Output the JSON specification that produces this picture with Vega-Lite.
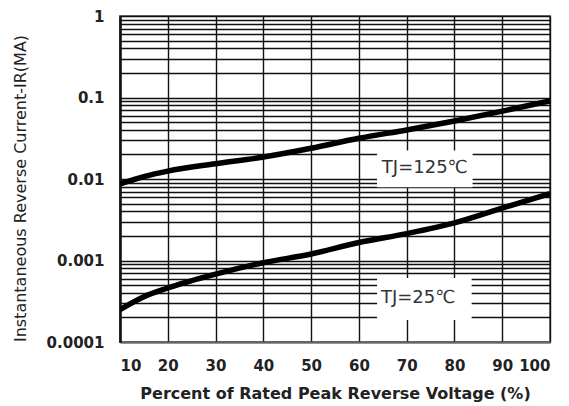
{
  "$schema": "https://vega.github.io/schema/vega-lite/v6.json",
  "width": 430,
  "height": 326,
  "autosize": "none",
  "padding": {"left": 120, "top": 16, "right": 19, "bottom": 64},
  "background": "white",
  "datasets": {
    "curves": [
      {"v": 10, "ir": 0.0087, "tj": "125"},
      {"v": 15, "ir": 0.0107, "tj": "125"},
      {"v": 20, "ir": 0.0125, "tj": "125"},
      {"v": 30, "ir": 0.0154, "tj": "125"},
      {"v": 40, "ir": 0.0186, "tj": "125"},
      {"v": 50, "ir": 0.0238, "tj": "125"},
      {"v": 60, "ir": 0.0316, "tj": "125"},
      {"v": 70, "ir": 0.040, "tj": "125"},
      {"v": 80, "ir": 0.0515, "tj": "125"},
      {"v": 90, "ir": 0.068, "tj": "125"},
      {"v": 100, "ir": 0.0906, "tj": "125"},
      {"v": 10, "ir": 0.00025, "tj": "25"},
      {"v": 15, "ir": 0.00036, "tj": "25"},
      {"v": 20, "ir": 0.00046, "tj": "25"},
      {"v": 30, "ir": 0.00068, "tj": "25"},
      {"v": 40, "ir": 0.00094, "tj": "25"},
      {"v": 50, "ir": 0.0012, "tj": "25"},
      {"v": 60, "ir": 0.00166, "tj": "25"},
      {"v": 70, "ir": 0.00214, "tj": "25"},
      {"v": 80, "ir": 0.0029, "tj": "25"},
      {"v": 90, "ir": 0.0044, "tj": "25"},
      {"v": 100, "ir": 0.0066, "tj": "25"}
    ],
    "notes": [
      {"label": "TJ=125℃", "x": 73.8, "y": 0.01346, "x1": 63.8, "x2": 83.8, "y1": 0.0224, "y2": 0.0079},
      {"label": "TJ=25℃", "x": 72.4, "y": 0.000342, "x1": 63.8, "x2": 83.6, "y1": 0.00061, "y2": 0.000186}
    ]
  },
  "layer": [
    {
      "data": {"name": "notes"},
      "mark": {"type": "rect", "fill": "white", "opacity": 0},
      "encoding": {
        "x": {
          "field": "x1", "type": "quantitative",
          "scale": {"domain": [10, 100], "nice": false, "zero": false},
          "axis": {
            "values": [10, 20, 30, 40, 50, 60, 70, 80, 90, 100],
            "grid": true, "gridColor": "#111", "gridWidth": 1.4, "gridOpacity": 1,
            "ticks": false, "domainColor": "#666", "domainWidth": 2,
            "labelFont": "DejaVu Sans", "labelFontSize": 15, "labelFontWeight": "bold",
            "labelColor": "#222", "labelPadding": 16, "labelAngle": 0,
            "title": "Percent of Rated Peak Reverse Voltage (%)",
            "titleFont": "DejaVu Sans", "titleFontSize": 16, "titleFontWeight": "bold",
            "titleColor": "#222", "titlePadding": 12
          }
        },
        "y": {
          "field": "y1", "type": "quantitative",
          "scale": {"type": "log", "domain": [0.0001, 1], "nice": false},
          "axis": {
            "values": [0.0001, 0.0002, 0.0003, 0.0004, 0.0005, 0.0006, 0.0007, 0.0008, 0.0009,
                       0.001, 0.002, 0.003, 0.004, 0.005, 0.006, 0.007, 0.008, 0.009,
                       0.01, 0.02, 0.03, 0.04, 0.05, 0.06, 0.07, 0.08, 0.09,
                       0.1, 0.2, 0.3, 0.4, 0.5, 0.6, 0.7, 0.8, 0.9, 1],
            "format": "~g",
            "labelExpr": "abs(log(datum.value)/LN10 - round(log(datum.value)/LN10)) < 0.000001 ? datum.label : ''",
            "grid": true, "gridColor": "#111", "gridWidth": 1.3, "gridOpacity": 1,
            "ticks": false, "domainColor": "#111", "domainWidth": 2.5,
            "labelFont": "DejaVu Sans", "labelFontSize": 15, "labelFontWeight": "bold",
            "labelColor": "#222", "labelPadding": 16,
            "title": "Instantaneous Reverse Current-IR(MA)",
            "titleFont": "DejaVu Sans", "titleFontSize": 16, "titleFontWeight": "normal",
            "titleColor": "#222", "titleX": -100, "titleY": 172, "titleBaseline": "middle"
          }
        },
        "x2": {"field": "x2"},
        "y2": {"field": "y2"}
      }
    },
    {
      "data": {"name": "curves"},
      "mark": {"type": "line", "color": "black", "strokeWidth": 5.5, "interpolate": "monotone", "clip": true},
      "encoding": {
        "x": {"field": "v", "type": "quantitative"},
        "y": {"field": "ir", "type": "quantitative"},
        "detail": {"field": "tj"}
      }
    },
    {
      "data": {"name": "notes"},
      "mark": {"type": "rect", "fill": "white"},
      "encoding": {
        "x": {"field": "x1", "type": "quantitative"},
        "x2": {"field": "x2"},
        "y": {"field": "y1", "type": "quantitative"},
        "y2": {"field": "y2"}
      }
    },
    {
      "data": {"name": "notes"},
      "mark": {"type": "text", "font": "DejaVu Sans", "fontSize": 18, "color": "#333", "align": "center", "baseline": "middle"},
      "encoding": {
        "x": {"field": "x", "type": "quantitative"},
        "y": {"field": "y", "type": "quantitative"},
        "text": {"field": "label"}
      }
    }
  ],
  "config": {
    "view": {"stroke": "#777", "strokeWidth": 2}
  }
}
